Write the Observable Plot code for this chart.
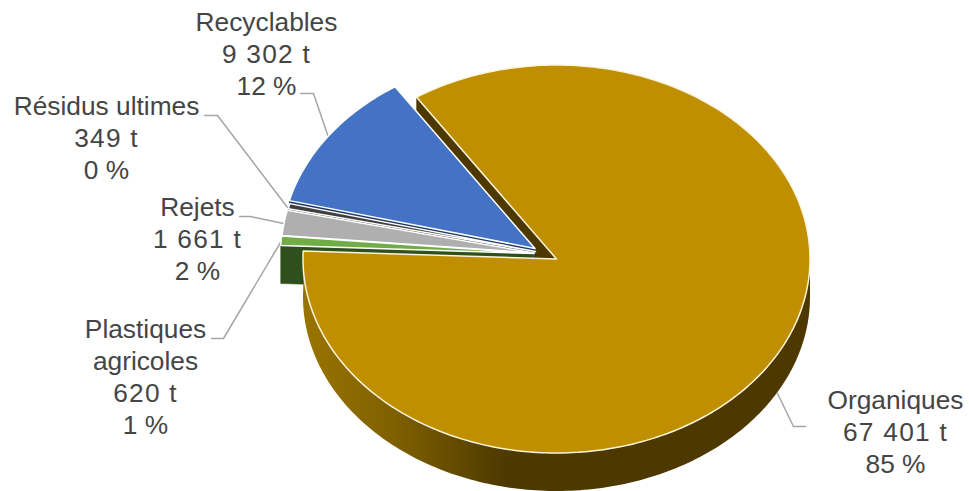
<!DOCTYPE html>
<html><head><meta charset="utf-8">
<script src="https://cdn.jsdelivr.net/npm/d3@7"></script>
<script src="https://cdn.jsdelivr.net/npm/@observablehq/plot@0.6"></script>
<style>html,body{margin:0;padding:0;background:#fff}svg{display:block}
.tonnage text,text.tonnage{letter-spacing:1.25px}</style>
</head><body><div id="chart"></div>
<script>
// Data, clockwise from the start of the big slice
const names = ["Organiques","Plastiques\nagricoles","Rejets","Résidus ultimes","Recyclables"];
const tonnes = [67401,620,1661,349,9302];

// Styling and layout
const topColors  = ["#BF8F00","#70AD47","#AFAFAF","#404040","#4472C4"];
const wallColors = ["#4D3900","#2F4F1D","#6B6B6B","#262626","#203864"];
const offsets = [[0,0],[-22.5,-5.5],[-22,-6],[-21,-7.5],[-21.5,-10.5]];
const labelAt = [[895,432],[145,377],[197,239],[106,138],[266,54]];
const leaders = [
  [[805,426],[793,426],[777,393]],
  [[211,338],[223,338],[280,242]],
  [[239,216],[250,216],[283,223]],
  [[204,115],[217,115],[287,207]],
  [[300,93],[313,93],[328,137]]
];
const W = 969, H = 491, CX = 556, CY = 258.5, RX = 253.5, RY = 194, T = 38, START = -33.5, LINE = 31.8;

// Geometry derived from the values
const total = d3.sum(tonnes);
let acc = START;
const slices = tonnes.map((v,i)=>{
  const a0 = acc, a1 = acc + v/total*360; acc = a1;
  return {i,a0,a1,cx:CX+offsets[i][0],cy:CY+offsets[i][1]};
});
const rim = (s,a,dy=0)=>{const r=a*Math.PI/180;return {x:s.cx+Math.sin(r)*RX,y:s.cy-Math.cos(r)*RY+dy};};
const arc = (s,a0,a1,dy=0)=>{
  const n=Math.max(2,Math.ceil(Math.abs(a1-a0)));
  return d3.range(n+1).map(k=>rim(s,a0+(a1-a0)*k/n,dy));
};
const apex = (s,dy=0)=>({x:s.cx,y:s.cy+dy});
const closed = p=>[...p,p[0]];
const topFace = s=>closed([apex(s),...arc(s,s.a0,s.a1)]);
const cutWall = (s,a)=>closed([apex(s),rim(s,a),rim(s,a,T),apex(s,T)]);
const outerWall = (s,a0,a1)=>closed([...arc(s,a0,a1),...arc(s,a1,a0,T)]);
const face = (pts,fill,stroke,sw=1.5)=>Plot.line(pts,{x:"x",y:"y",fill,stroke:stroke||fill,strokeWidth:stroke?sw:0.5,strokeLinejoin:"round",curve:"linear"});

const fmt = v=>d3.format(",")(v).replace(/,/g," ");
const lines = names.flatMap((n,i)=>{
  const rows=[...n.split("\n").map(text=>({text,tonnage:false})),
    {text:`${fmt(tonnes[i])} t`,tonnage:true},
    {text:`${Math.round(tonnes[i]/total*100)} %`,tonnage:false}];
  return rows.map((r,k)=>({...r,x:labelAt[i][0],y:labelAt[i][1]+(k-(rows.length-1)/2)*LINE}));
});
const [org,...others] = slices;

const gradient = ()=>{
  const defs=d3.create("svg:defs");
  const g=defs.append("linearGradient").attr("id","wallGrad").attr("gradientUnits","userSpaceOnUse")
    .attr("x1",302).attr("x2",810).attr("y1",0).attr("y2",0);
  [[0,"#9A7400"],[0.18,"#7F6000"],[0.4,"#4D3900"],[1,"#4D3900"]].forEach(([o,c])=>g.append("stop").attr("offset",o).attr("stop-color",c));
  return defs.node();
};

const marks = [gradient];
leaders.forEach(l=>marks.push(Plot.line(l.map(([x,y])=>({x,y})),{x:"x",y:"y",stroke:"#A6A6A6",strokeWidth:1.5,curve:"linear"})));
marks.push(face(cutWall(org,org.a0),wallColors[0]));
[...others].reverse().forEach(s=>{
  marks.push(face(cutWall(s,s.a0),wallColors[s.i]));
  marks.push(face(topFace(s),topColors[s.i],"#FFFFFF"));
});
marks.push(face(outerWall(org,90,org.a1),"url(#wallGrad)","none"));
marks.push(face(topFace(org),topColors[0],"#FBF4DC"));
const textOpts = {x:"x",y:"y",text:"text",fill:"#454545",fontSize:26.3,textAnchor:"middle",lineAnchor:"middle",fontFamily:"'Liberation Sans'"};
marks.push(Plot.text(lines.filter(d=>!d.tonnage),textOpts));
marks.push(Plot.text(lines.filter(d=>d.tonnage),{...textOpts,className:"tonnage"}));

document.getElementById("chart").append(Plot.plot({
  width:W,height:H,margin:0,
  x:{domain:[0,W],range:[0,W],axis:null},
  y:{domain:[0,H],range:[0,H],axis:null},
  style:{background:"#fff"},
  marks
}));
</script></body></html>
